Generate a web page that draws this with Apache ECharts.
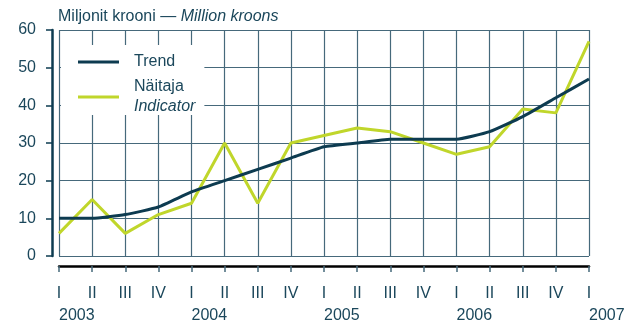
<!DOCTYPE html>
<html>
<head>
<meta charset="utf-8">
<script src="https://cdn.jsdelivr.net/npm/echarts@6/dist/echarts.min.js"></script>
<style>
  html, body { margin: 0; padding: 0; background: #fff; }
  #chart { width: 632px; height: 322px; }
</style>
</head>
<body>
<div id="chart"></div>
<script>
// Quarterly values, 2003 I – 2007 I (million kroons)
const years = ['2003', '2004', '2005', '2006', '2007'];
const quarters = ['I', 'II', 'III', 'IV'];
const trend     = [10, 10, 11, 13, 17, 20, 23, 26, 29, 30, 31, 31, 31, 33, 37, 42, 47];
const indicator = [6, 15, 6, 11, 14, 30, 14, 30, 32, 34, 33, 30, 27, 29, 39, 38, 57];
const yTicks = [0, 10, 20, 30, 40, 50, 60];

// Category keys: "2003 I", "2003 II", ...
const categories = [];
years.forEach(y => quarters.forEach(q => categories.push(y + ' ' + q)));
categories.length = trend.length;

const navy = '#0d3b50';
const green = '#c0d62b';
const gridColor = '#46697b';
const textColor = '#1b475b';
const font = '"Liberation Sans", Arial, sans-serif';
const fs = 16;

const chart = echarts.init(document.getElementById('chart'), null, { renderer: 'canvas' });

chart.setOption({
  backgroundColor: '#ffffff',
  animation: false,
  textStyle: { fontFamily: font },
  title: {
    text: 'Miljonit krooni — {i|Million kroons}',
    left: 53,
    top: 9,
    padding: [0, 5],
    textStyle: {
      fontFamily: font, fontSize: fs, fontWeight: 'normal', color: textColor,
      rich: { i: { fontFamily: font, fontSize: fs, fontStyle: 'italic', color: textColor } }
    }
  },
  legend: {
    orient: 'vertical',
    left: 61,
    top: 45,
    padding: [9, 9, 0, 17],
    itemGap: 9,
    backgroundColor: '#ffffff',
    icon: 'rect',
    itemWidth: 41,
    itemHeight: 3,
    data: ['Trend', 'Näitaja'],
    formatter: name => name === 'Näitaja' ? '{a|Näitaja}\n{b|Indicator}' : '{a|' + name + '}',
    textStyle: {
      fontFamily: font, fontSize: fs, color: textColor,
      padding: [0, 0, 0, 10],
      rich: {
        a: { fontFamily: font, fontSize: fs, color: textColor, lineHeight: 20 },
        b: { fontFamily: font, fontSize: fs, fontStyle: 'italic', color: textColor, lineHeight: 20 }
      }
    }
  },
  grid: { left: 59, right: 43, top: 30, bottom: 66, containLabel: false, outerBoundsMode: 'none' },
  xAxis: [
    {
      type: 'category',
      data: categories,
      boundaryGap: false,
      position: 'bottom',
      offset: 10,
      axisLine: { show: true, onZero: false, lineStyle: { color: '#000000', width: 2.5 } },
      axisTick: { show: true, interval: 0, length: 6, lineStyle: { color: gridColor, width: 1.5 } },
      axisLabel: {
        interval: 0, margin: 20, fontFamily: font, fontSize: fs, color: textColor,
        formatter: v => v.split(' ')[1]
      },
      splitLine: { show: true, interval: 0, lineStyle: { color: gridColor, width: 1.2 } }
    },
    {
      type: 'category',
      data: categories,
      boundaryGap: false,
      position: 'bottom',
      offset: 10,
      axisLine: { show: false, onZero: false },
      axisTick: { show: false },
      splitLine: { show: false },
      axisLabel: {
        interval: 0, margin: 42, align: 'left', fontFamily: font, fontSize: fs, color: textColor,
        formatter: v => { const p = v.split(' '); return p[1] === 'I' ? p[0] : ''; }
      }
    }
  ],
  yAxis: {
    type: 'value',
    min: yTicks[0],
    max: yTicks[yTicks.length - 1],
    interval: 10,
    offset: 7,
    axisLine: { show: true, onZero: false, lineStyle: { color: navy, width: 2.5 } },
    axisTick: { show: true, length: 6, lineStyle: { color: navy, width: 1.5 } },
    axisLabel: { margin: 16, fontFamily: font, fontSize: fs, color: textColor },
    splitLine: { show: true, lineStyle: { color: gridColor, width: 1.2 } }
  },
  series: [
    {
      name: 'Näitaja',
      type: 'line',
      data: indicator,
      showSymbol: false,
      symbol: 'none',
      lineStyle: { color: green, width: 3 },
      itemStyle: { color: green },
      z: 2
    },
    {
      name: 'Trend',
      type: 'line',
      data: trend,
      showSymbol: false,
      symbol: 'none',
      smooth: 0.15,
      lineStyle: { color: navy, width: 3 },
      itemStyle: { color: navy },
      z: 3
    }
  ]
});
</script>
</body>
</html>
